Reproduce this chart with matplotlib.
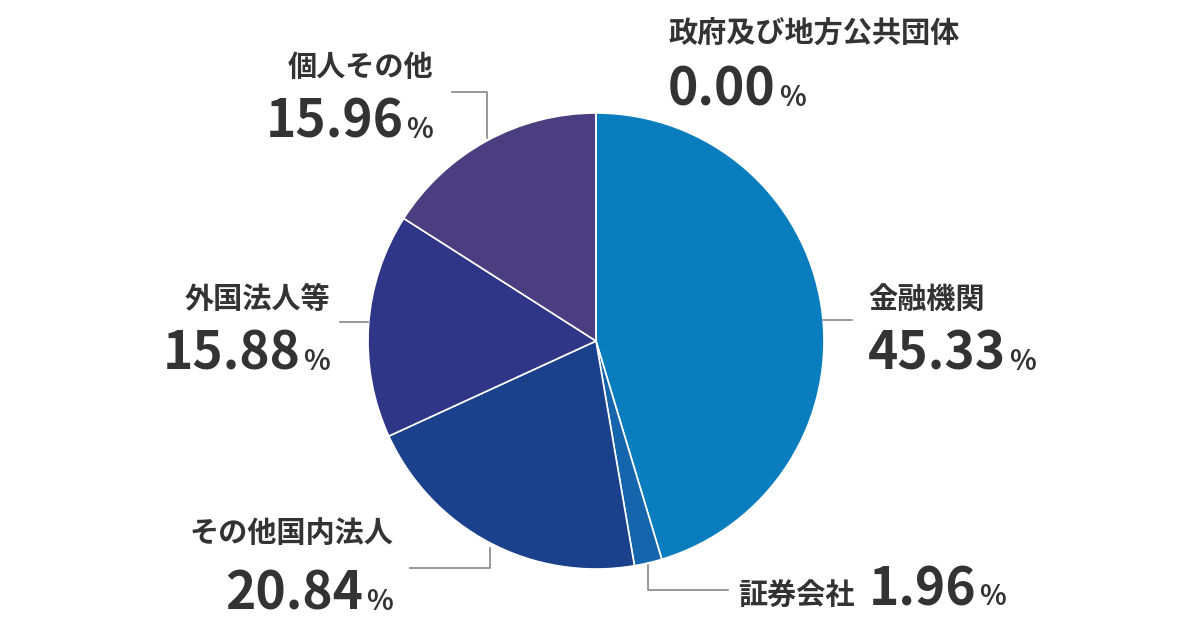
import matplotlib
matplotlib.use("Agg")
import matplotlib.pyplot as plt

labels = ["金融機関", "証券会社", "その他国内法人", "外国法人等", "個人その他", "政府及び地方公共団体"]
values = [45.33, 1.96, 20.84, 15.88, 15.96, 0.00]
value_text = ["45.33", "1.96", "20.84", "15.88", "15.96", "0.00"]
colors = ["#0a7dbe", "#1565ad", "#1b418d", "#2f3687", "#4b3e80", "#5a3f80"]

W, H = 1190, 620
fig = plt.figure(figsize=(11.9, 6.2), dpi=100)
ax = fig.add_axes([0, 0, 1, 1])
ax.set_xlim(0, W); ax.set_ylim(0, H); ax.axis("off")
cx, cy, r = 596, H - 341, 228
ax.pie(values, colors=colors, startangle=90, counterclock=False, center=(cx, cy), radius=r,
       wedgeprops=dict(edgecolor="white", linewidth=1.2))
ax.set_aspect("equal")
ax.set_xlim(0, W); ax.set_ylim(0, H)

fam = ["Noto Sans CJK JP", "DejaVu Sans"]
tc = "#333333"
lc = "#888888"
def Y(p): return H - p

def line(pts):
    ax.plot([p[0] for p in pts], [Y(p[1]) for p in pts], color=lc, lw=1.2)

line([(823, 320), (852, 320)])
line([(648, 565), (648, 590), (728, 590)])
line([(490, 548), (490, 568), (410, 568)])
line([(368, 322), (340, 322)])
line([(487, 138), (487, 92), (452, 92)])

renderer = fig.canvas.get_renderer()
def value(x, y, s, ha):
    if ha == "left":
        t = ax.text(x, Y(y), s, ha="left", va="baseline", fontsize=37, fontweight="bold", family=fam, color=tc)
        bb = t.get_window_extent(renderer)
        ax.text(bb.x1 + 3, Y(y), "%", ha="left", va="baseline", fontsize=20, fontweight="bold", family=fam, color=tc)
    else:
        p = ax.text(x, Y(y), "%", ha="right", va="baseline", fontsize=20, fontweight="bold", family=fam, color=tc)
        bb = p.get_window_extent(renderer)
        ax.text(bb.x0 - 3, Y(y), s, ha="right", va="baseline", fontsize=37, fontweight="bold", family=fam, color=tc)

def title(x, y, s, ha):
    ax.text(x, Y(y), s, ha=ha, va="baseline", fontsize=21, fontweight="bold", family=fam, color=tc)

# 政府
title(668, 42, labels[5], "left"); value(668, 106, value_text[5], "left")
# 金融機関
title(868, 308, labels[0], "left"); value(868, 370, value_text[0], "left")
# 証券会社
t = ax.text(738, Y(605), labels[1], ha="left", va="baseline", fontsize=21, fontweight="bold", family=fam, color=tc)
bb = t.get_window_extent(renderer)
value(bb.x1 + 14, 605, value_text[1], "left")
# その他国内法人
title(393, 542, labels[2], "right"); value(393, 610, value_text[2], "right")
# 外国法人等
title(330, 308, labels[3], "right"); value(330, 370, value_text[3], "right")
# 個人その他
title(433, 76, labels[4], "right"); value(433, 138, value_text[4], "right")

fig.savefig("out.png", dpi=100)
